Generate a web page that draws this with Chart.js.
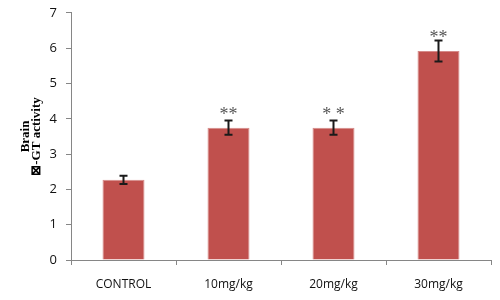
<!DOCTYPE html>
<html>
<head>
<meta charset="utf-8">
<script src="https://cdn.jsdelivr.net/npm/chart.js@4"></script>
<style>
  html, body { margin: 0; padding: 0; background: #fff; }
  #wrap { width: 500px; height: 300px; }
</style>
</head>
<body>
<div id="wrap"><canvas id="chart"></canvas></div>
<script>
const groups = ['CONTROL', '10mg/kg', '20mg/kg', '30mg/kg'];
const activity = [2.27, 3.75, 3.75, 5.92];
const errors = [0.12, 0.2, 0.2, 0.3];
const marks = ['', '**', '* *', '**'];
const yTicks = [0, 1, 2, 3, 4, 5, 6, 7];

// error bars and significance stars, placed through the chart scales
const errorBars = {
  id: 'errorBars',
  afterDatasetsDraw(chart) {
    const { ctx, scales: { x, y } } = chart;
    ctx.save();
    activity.forEach((v, i) => {
      const cx = x.getPixelForValue(i);
      const top = y.getPixelForValue(v + errors[i]);
      const bot = y.getPixelForValue(v - errors[i]);
      ctx.strokeStyle = '#1a1a1a';
      ctx.lineWidth = 2;
      ctx.beginPath();
      ctx.moveTo(cx, top); ctx.lineTo(cx, bot);
      ctx.moveTo(cx - 4, top); ctx.lineTo(cx + 4, top);
      ctx.moveTo(cx - 4, bot); ctx.lineTo(cx + 4, bot);
      ctx.stroke();
      if (marks[i]) {
        ctx.fillStyle = '#555';
        ctx.font = '18px "Liberation Serif"';
        ctx.textAlign = 'center';
        ctx.textBaseline = 'alphabetic';
        ctx.fillText(marks[i], cx, top - (i === 3 ? -3 : 1));
      }
    });
    ctx.restore();
  }
};

new Chart(document.getElementById('chart'), {
  type: 'bar',
  data: {
    labels: groups,
    datasets: [{
      data: activity,
      backgroundColor: '#C0504D',
      borderColor: '#D58B89',
      borderWidth: 1,
      barPercentage: 0.4,
      categoryPercentage: 1
    }]
  },
  options: {
    responsive: true,
    maintainAspectRatio: false,
    animation: false,
    layout: { padding: { top: 11, right: 9, bottom: 0, left: 0 } },
    plugins: { legend: { display: false }, tooltip: { enabled: false } },
    scales: {
      x: {
        offset: true,
        grid: { offset: true, drawOnChartArea: false, drawTicks: true, tickLength: 5, color: '#868686' },
        border: { color: '#868686' },
        ticks: { color: '#111', font: { family: 'Open Sans', size: 12 }, padding: 12 },
        afterFit: s => { s.height = 40; }
      },
      y: {
        min: 0,
        max: 7,
        afterBuildTicks: s => { s.ticks = yTicks.map(v => ({ value: v })); },
        grid: { drawOnChartArea: false, drawTicks: true, tickLength: 5, color: '#868686' },
        border: { color: '#868686' },
        ticks: { color: '#111', font: { family: 'Open Sans', size: 13, lineHeight: 0.6 }, padding: 9 },
        title: {
          display: true,
          text: ['Brain', '\u22A0-GT activity'],
          color: '#000',
          font: { family: 'Liberation Serif', size: 13, weight: 'bold', lineHeight: 0.85 },
          padding: { top: 20, bottom: 0 }
        },
        afterFit: s => { s.width = 71; }
      }
    }
  },
  plugins: [errorBars]
});
</script>
</body>
</html>
